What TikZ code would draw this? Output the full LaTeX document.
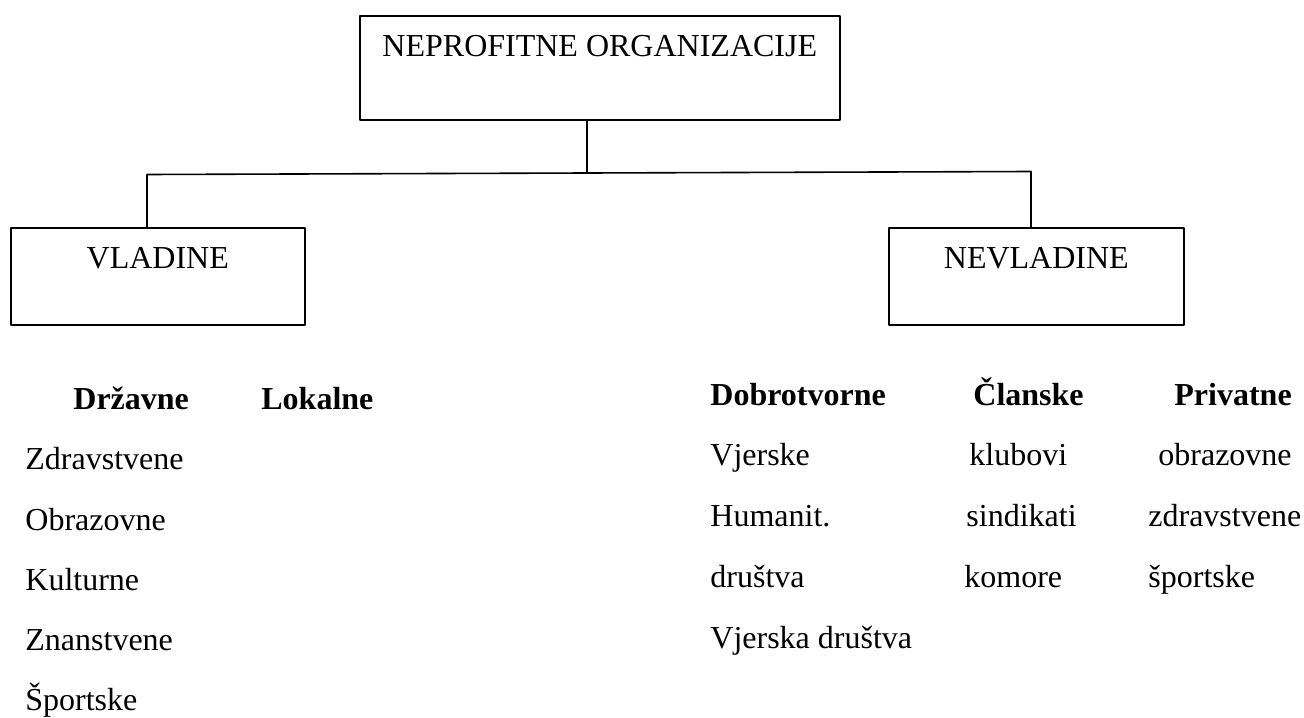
\documentclass[tikz,border=0pt]{standalone}
\usepackage{fontspec}
\setmainfont{Liberation Serif}

\tikzset{
  orgbox/.style={draw,line width=0.8pt,inner sep=0pt,anchor=north west,
    text height=20.5pt,font=\fontsize{16}{19}\selectfont},
  orgtext/.style={inner sep=0pt,anchor=base west,font=\fontsize{16}{19}\selectfont},
  orghead/.style={orgtext,font=\fontsize{16}{19}\selectfont\bfseries},
  orglink/.style={line width=0.8pt}
}

\begin{document}
\begin{tikzpicture}[x=0.5pt,y=-0.5pt,line cap=round,line join=round]
        \useasboundingbox (0,0) rectangle (1304,717);

        % boxes
        \node[orgbox,minimum width=240pt,text depth=31.5pt] (npo) at (359,15)
            {NEPROFITNE ORGANIZACIJE};
        \node[orgbox,minimum width=147pt,text depth=28pt] (vl) at (10,227)
            {VLADINE};
        \node[orgbox,minimum width=147.5pt,text depth=28pt] (nvl) at (888,227)
            {NEVLADINE};

        % connectors
        \coordinate (split) at (587,173);
        \coordinate (jl) at (147,174.5);
        \coordinate (jr) at (1031,171.5);
        \draw[orglink] (npo.south -| split) -- (split);
        \draw[orglink] (split) -- (jl) -- (jl |- vl.north);
        \draw[orglink] (split) -- (jr) -- (jr |- nvl.north);

        % vladine
        \node[orghead] (drz) at (73,409) {Državne};
        \node[orghead] (lok) at (261,409) {Lokalne};
        \node[orgtext] (drz1) at (25,469) {Zdravstvene};
        \node[orgtext] (drz2) at (25,530) {Obrazovne};
        \node[orgtext] (drz3) at (25,590) {Kulturne};
        \node[orgtext] (drz4) at (25,650) {Znanstvene};
        \node[orgtext] (drz5) at (25,710) {Športske};

        % nevladine
        \node[orghead] (dob) at (710,405) {Dobrotvorne};
        \node[orghead] (cla) at (973,405) {Članske};
        \node[orghead] (pri) at (1174,405) {Privatne};
        \node[orgtext] (dob1) at (710,465) {Vjerske};
        \node[orgtext] (dob2) at (710,526) {Humanit.};
        \node[orgtext] (dob3) at (710,587) {društva};
        \node[orgtext] (dob4) at (710,648) {Vjerska društva};
        \node[orgtext] (cla1) at (969,465) {klubovi};
        \node[orgtext] (cla2) at (966,526) {sindikati};
        \node[orgtext] (cla3) at (964,587) {komore};
        \node[orgtext] (pri1) at (1158,465) {obrazovne};
        \node[orgtext] (pri2) at (1148,526) {zdravstvene};
        \node[orgtext] (pri3) at (1148,587) {športske};
    \end{tikzpicture}
\end{document}
